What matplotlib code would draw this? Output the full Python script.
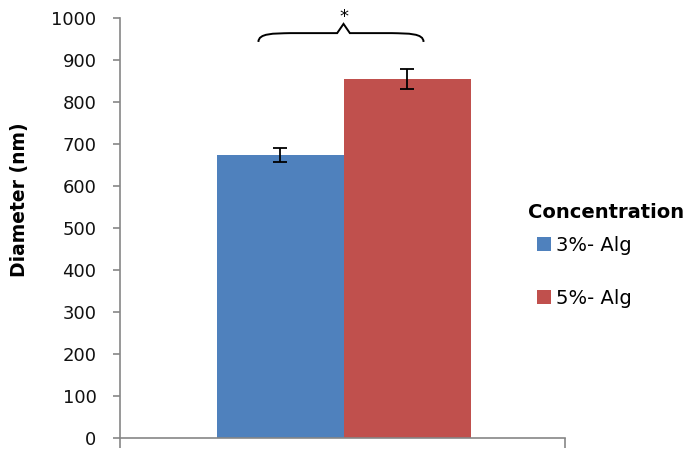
import matplotlib.pyplot as plt
from matplotlib.path import Path
from matplotlib.patches import PathPatch, Patch

plt.rcParams['font.family'] = ['DejaVu Sans']

# data
groups = ["3%- Alg", "5%- Alg"]
diameter = [674, 855]
errors = [16, 24]
colors = ['#4f81bd', '#c0504d']
yticks = [0, 100, 200, 300, 400, 500, 600, 700, 800, 900, 1000]

fig = plt.figure(figsize=(6.96, 4.53), dpi=100)
ax = fig.add_axes([120/696, 15/453, 445/696, 420/453])

xpos = [0, 1]
ax.bar(xpos, diameter, width=1.0, color=colors)
ax.errorbar(xpos, diameter, yerr=errors, fmt='none', ecolor='black',
            elinewidth=1.3, capsize=5, capthick=1.3)

ax.set_xlim(-1.26, 2.244)
ax.set_ylim(0, 1000)
ax.set_yticks(yticks)
ax.set_xticks([-1.26, 2.244])
ax.set_xticklabels([])
for s in ['top', 'right']:
    ax.spines[s].set_visible(False)
for s in ['left', 'bottom']:
    ax.spines[s].set_color('#868686')
    ax.spines[s].set_linewidth(1.2)
ax.tick_params(axis='both', direction='out', length=5, color='#868686', width=1.2,
               labelsize=13, labelcolor='#111111', pad=12)
ax.tick_params(axis='x', length=7)
ax.set_ylabel("Diameter (nm)", fontsize=13.5, fontweight='bold')
ax.yaxis.set_label_coords(-0.205, 0.567)

# significance brace
x0, x1, xm = -0.17, 1.13, 0.5
ye, yl, yt = 943, 964, 986
verts = [(x0, ye), (x0, yl), (x0 + 0.12, yl - 1), (x0 + 0.25, yl),
         (xm - 0.05, yl), (xm - 0.05, yl), (xm, yt),
         (xm + 0.05, yl), (xm + 0.05, yl), (x1 - 0.25, yl),
         (x1 - 0.12, yl - 1), (x1, yl), (x1, ye)]
codes = [Path.MOVETO, Path.CURVE4, Path.CURVE4, Path.CURVE4,
         Path.LINETO, Path.CURVE3, Path.CURVE3,
         Path.CURVE3, Path.CURVE3, Path.LINETO,
         Path.CURVE4, Path.CURVE4, Path.CURVE4]
ax.add_patch(PathPatch(Path(verts, codes), facecolor='none', edgecolor='black',
                       lw=1.4, clip_on=False))
ax.text(xm, 1003, "*", ha='center', va='center', fontsize=13, clip_on=False)

# legend: title as separate text, entries indented
fig.text(528/696, 1 - 213/453, "Concentration", fontsize=14, fontweight='bold',
         ha='left', va='center')
handles = [Patch(facecolor=c) for c in colors]
leg = fig.legend(handles, groups, loc='upper left',
                 bbox_to_anchor=(537/696, 1 - 236/453), frameon=False,
                 fontsize=14, labelspacing=1.75, handlelength=0.7, handleheight=0.7,
                 handletextpad=0.3, borderaxespad=0, borderpad=0)

fig.savefig("out.png", dpi=100)
